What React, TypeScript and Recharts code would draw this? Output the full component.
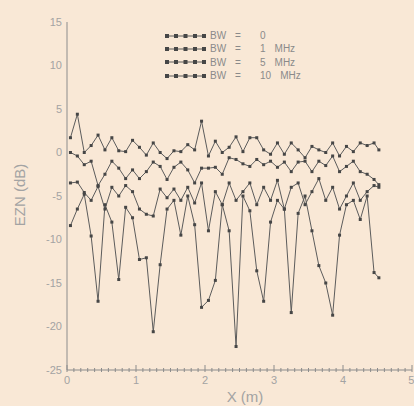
import React from 'react';
import { LineChart, Line, XAxis, YAxis, Legend, Label } from 'recharts';

const xPositions = [0.05, 0.15, 0.25, 0.35, 0.45, 0.55, 0.65, 0.75, 0.85, 0.95, 1.05, 1.15, 1.25, 1.35, 1.45, 1.55, 1.65, 1.75, 1.85, 1.95, 2.05, 2.15, 2.25, 2.35, 2.45, 2.55, 2.65, 2.75, 2.85, 2.95, 3.05, 3.15, 3.25, 3.35, 3.45, 3.55, 3.65, 3.75, 3.85, 3.95, 4.05, 4.15, 4.25, 4.35, 4.45, 4.52];

const bw0 = [-8.4, -6.5, -4.8, -9.6, -17.1, -6.0, -8.0, -14.6, -6.3, -7.5, -12.3, -12.1, -20.6, -12.9, -6.5, -5.5, -9.5, -5.0, -8.3, -17.8, -17.0, -14.7, -6.0, -9.0, -22.3, -5.0, -6.7, -13.6, -17.1, -8.0, -5.5, -6.5, -18.4, -7.0, -5.0, -9.0, -13.0, -15.0, -18.7, -9.5, -6.0, -5.5, -7.7, -5.0, -13.8, -14.4];

const bw1 = [-3.5, -3.4, -4.6, -5.5, -3.9, -6.5, -4.0, -5.0, -3.8, -4.5, -6.5, -7.1, -7.3, -4.2, -5.2, -4.2, -5.5, -4.0, -5.8, -3.5, -9.0, -4.5, -6.0, -3.5, -5.5, -4.5, -3.5, -6.0, -4.0, -5.5, -3.2, -6.5, -4.0, -3.5, -6.0, -4.5, -3.0, -5.5, -4.0, -6.5, -5.0, -3.5, -5.5, -4.5, -3.8, -4.0];

const bw5 = [0.0, -0.4, -1.4, -1.0, -3.8, -2.5, -1.0, -1.8, -3.0, -2.0, -3.0, -2.2, -1.1, -1.6, -3.1, -1.7, -1.1, -2.0, -3.5, -1.8, -1.8, -1.7, -2.5, -0.6, -0.8, -1.3, -1.6, -0.8, -1.4, -1.0, -1.7, -1.1, -2.2, -1.1, -1.0, -2.2, -1.0, -1.5, -0.4, -2.2, -1.6, -1.0, -2.2, -2.5, -3.1, -3.7];

const bw10 = [1.7, 4.4, 0.0, 0.8, 2.0, 0.3, 1.7, 0.2, 0.1, 1.4, 0.6, -0.3, 1.1, 0.0, -0.7, 0.2, 0.1, 0.9, 0.3, 3.6, -0.4, 1.3, 0.0, 0.6, 1.8, 0.1, 1.7, 1.7, 0.3, -0.2, 1.1, -0.2, 1.1, 0.3, -0.6, 0.7, 0.3, 0.0, 1.1, -0.4, 0.7, 0.1, 1.1, 0.8, 1.1, 0.3];

const xTicks = [0, 1, 2, 3, 4, 5];
const yTicks = [-25, -20, -15, -10, -5, 0, 5, 10, 15];
const xMinorTicks = Array.from({ length: 51 }, (_, i) => i / 10);
const yMinorTicks = Array.from({ length: 41 }, (_, i) => i - 25);

const legendValues = ['0', '1', '5', '10'];
const legendUnits = ['', 'MHz', 'MHz', 'MHz'];

const rows = xPositions.map((x, i) => ({ x, bw0: bw0[i], bw1: bw1[i], bw5: bw5[i], bw10: bw10[i] }));

const FONT = '"Liberation Sans", Arial, sans-serif';
const AXIS = '#8c8c8c';
const TEXT = '#a3a3a3';
const LINE = '#5c5c5c';
const MARK = '#464646';

const renderDot = (props: any) => {
  const { cx, cy, index } = props;
  if (cx == null || cy == null) return <g key={`e${index}`} />;
  return <rect key={`d${index}`} x={cx - 1.5} y={cy - 1.5} width={3} height={3} fill={MARK} />;
};

const isMajor = (v: number, step: number) => Math.abs(v / step - Math.round(v / step)) < 1e-6;

const XMinorTick = (props: any) => {
  const { x, y, payload } = props;
  const len = isMajor(payload.value, 1) ? 5 : 2;
  return (
    <g>
      <line x1={x} y1={y + 2} x2={x} y2={y - len} stroke={AXIS} strokeWidth={1} />
    </g>
  );
};

const YMinorTick = (props: any) => {
  const { x, y, payload } = props;
  const len = isMajor(payload.value, 5) ? 6 : 3;
  return (
    <g>
      <line x1={x} y1={y} x2={x + len} y2={y} stroke={AXIS} strokeWidth={1} />
    </g>
  );
};

const renderLegend = () => (
  <div style={{ fontFamily: FONT, fontSize: 10, color: '#8a8a8a' }}>
    {legendValues.map((v, i) => (
      <div key={i} style={{ display: 'flex', alignItems: 'center', height: 13.3, whiteSpace: 'nowrap' }}>
        <svg width={44} height={6} style={{ display: 'block' }}>
          <line x1={2} y1={3} x2={41} y2={3} stroke={LINE} strokeWidth={1} />
          {[3, 12, 21.5, 31, 40].map((p) => (
            <rect key={p} x={p - 2} y={1} width={4} height={4} fill={MARK} />
          ))}
        </svg>
        <span style={{ marginLeft: 2, width: 25, display: 'inline-block' }}>BW</span>
        <span style={{ width: 25, display: 'inline-block' }}>=</span>
        <span style={{ marginRight: 9, display: 'inline-block' }}>{v}</span>
        <span>{legendUnits[i]}</span>
      </div>
    ))}
  </div>
);

export default function App() {
  return (
    <div style={{ position: 'fixed', left: 0, top: 0, width: 414, height: 406, background: '#f9e8d6', overflow: 'hidden' }}>
      <LineChart width={414} height={406} data={rows} margin={{ top: 22, right: 2, bottom: 6, left: 0 }}>
        <XAxis
          xAxisId="minor"
          type="number"
          dataKey="x"
          domain={[0, 5]}
          ticks={xMinorTicks}
          mirror
          height={1}
          axisLine={false}
          tickLine={false}
          tickSize={0}
          tickMargin={0}
          tick={<XMinorTick />}
          interval={0}
        />
        <YAxis
          yAxisId="minor"
          type="number"
          domain={[-25, 15]}
          ticks={yMinorTicks}
          mirror
          width={1}
          axisLine={false}
          tickLine={false}
          tickSize={0}
          tickMargin={0}
          tick={<YMinorTick />}
          interval={0}
        />
        <XAxis
          dataKey="x"
          type="number"
          domain={[0, 5]}
          ticks={xTicks}
          height={30}
          tickSize={0}
          tickMargin={6}
          stroke={AXIS}
          tick={{ fill: TEXT, fontSize: 11, fontFamily: FONT }}
        >
          <Label
            content={() => (
              <text x={245} y={402} textAnchor="middle" fill={TEXT} fontSize={15} fontFamily={FONT}>
                X (m)
              </text>
            )}
          />
        </XAxis>
        <YAxis
          type="number"
          domain={[-25, 15]}
          ticks={yTicks}
          width={67}
          tickSize={0}
          tickMargin={5}
          stroke={AXIS}
          tick={{ fill: TEXT, fontSize: 11, fontFamily: FONT }}
        >
          <Label
            content={() => (
              <text x={25} y={195} transform="rotate(-90 25 195)" textAnchor="middle" fill={TEXT} fontSize={15} fontFamily={FONT}>
                EZN (dB)
              </text>
            )}
          />
        </YAxis>
        <Legend
          layout="vertical"
          align="center"
          verticalAlign="middle"
          width={170}
          wrapperStyle={{ left: 164, top: 29 }}
          content={renderLegend}
        />
        <Line type="linear" dataKey="bw0" name="BW = 0" stroke={LINE} strokeWidth={1} dot={renderDot} isAnimationActive={false} />
        <Line type="linear" dataKey="bw1" name="BW = 1 MHz" stroke={LINE} strokeWidth={1} dot={renderDot} isAnimationActive={false} />
        <Line type="linear" dataKey="bw5" name="BW = 5 MHz" stroke={LINE} strokeWidth={1} dot={renderDot} isAnimationActive={false} />
        <Line type="linear" dataKey="bw10" name="BW = 10 MHz" stroke={LINE} strokeWidth={1} dot={renderDot} isAnimationActive={false} />
      </LineChart>
    </div>
  );
}
